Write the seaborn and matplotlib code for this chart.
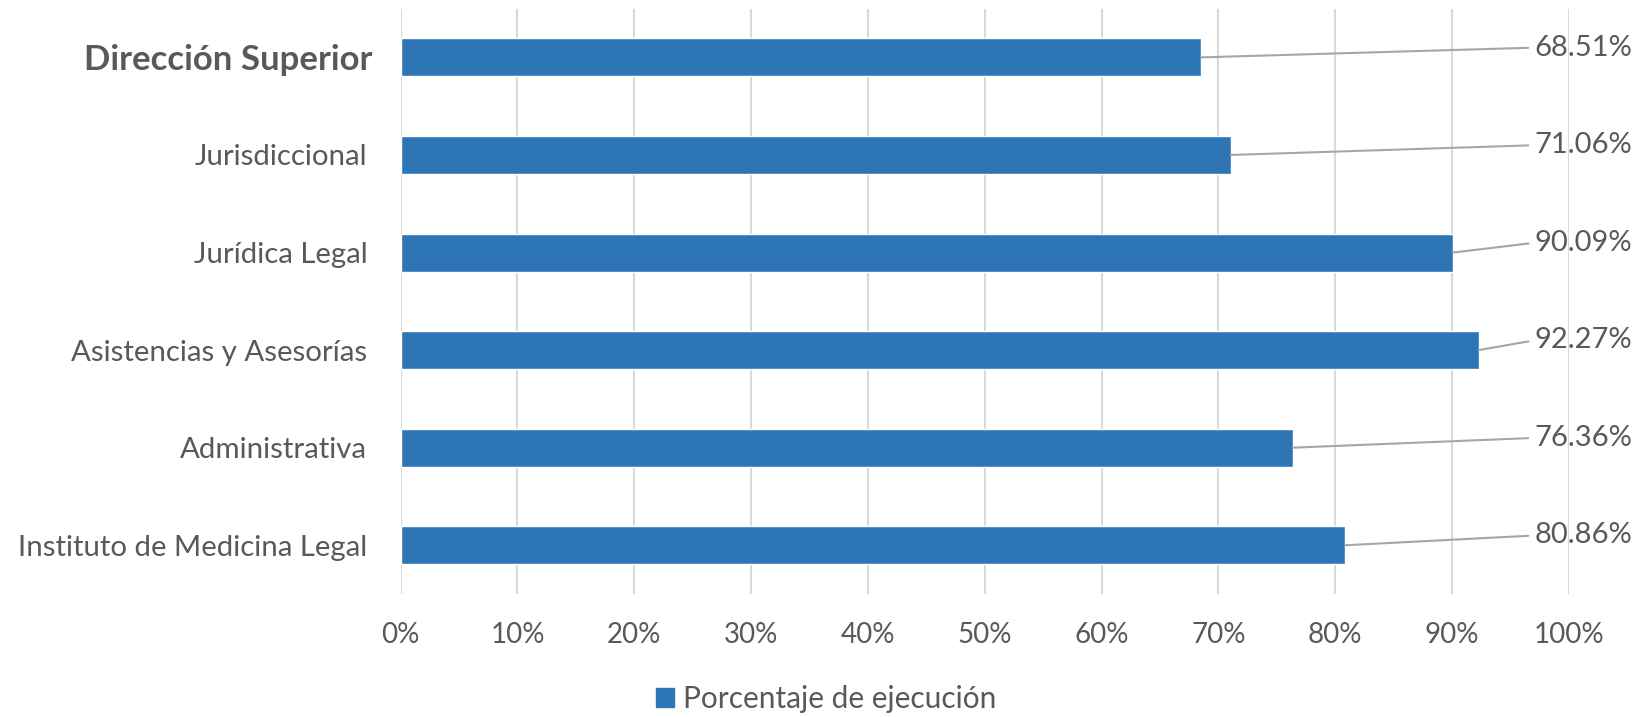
import matplotlib
matplotlib.use("Agg")
import matplotlib.pyplot as plt
import matplotlib.transforms as mtransforms
from matplotlib.patches import Patch
import seaborn as sns
import pandas as pd

categories = ["Dirección Superior", "Jurisdiccional", "Jurídica Legal",
              "Asistencias y Asesorías", "Administrativa", "Instituto de Medicina Legal"]
values = [68.51, 71.06, 90.09, 92.27, 76.36, 80.86]
x_ticks = [0, 10, 20, 30, 40, 50, 60, 70, 80, 90, 100]
series_name = "Porcentaje de ejecución"

BAR = "#2E75B6"
TXT = "#595959"
GRID = "#D9D9D9"
LEAD = "#A6A6A6"

sns.set_theme(style="white")
plt.rcParams["font.family"] = ["Lato", "DejaVu Sans"]

df = pd.DataFrame({"cat": categories, "val": values})

fig = plt.figure(figsize=(16.4, 7.17), dpi=100)
ax = fig.add_axes([0.2443, 0.1715, 0.7124, 0.8165])
sns.barplot(data=df, y="cat", x="val", orient="h", color=BAR, width=0.39,
            saturation=1, ax=ax)

ax.set_xlim(0, 100)
ax.set_ylim(5.5, -0.5)
ax.set_xticks(x_ticks)
ax.set_xticklabels([f"{t}%" for t in x_ticks])
ax.set_xlabel("")
ax.set_ylabel("")
for s in ax.spines.values():
    s.set_visible(False)
ax.grid(axis="x", color=GRID, linewidth=1.5)
ax.grid(axis="y", visible=False)
ax.set_axisbelow(True)
ax.tick_params(axis="x", length=0, pad=20, labelsize=20, labelcolor=TXT)
ax.tick_params(axis="y", length=0, pad=24, labelsize=21.2, labelcolor=TXT)
for lbl in ax.get_yticklabels():
    if lbl.get_text() == "Dirección Superior":
        lbl.set_fontweight("bold")
        lbl.set_fontsize(25)
        lbl.set_transform(lbl.get_transform() +
                          mtransforms.ScaledTranslation(0.052, 0, fig.dpi_scale_trans))

tr = mtransforms.blended_transform_factory(ax.transAxes, ax.transData)
for i, v in enumerate(values):
    ax.annotate(f"{v:.2f}%", xy=(v, i), xytext=(1.054, i - 0.1), textcoords=tr,
                ha="right", va="center", fontsize=21, color=TXT,
                annotation_clip=False,
                arrowprops=dict(arrowstyle="-", color=LEAD, lw=1.5,
                                relpos=(0, 0.5), shrinkA=2, shrinkB=0))

fig.legend(handles=[Patch(facecolor=BAR, edgecolor=BAR, label=series_name)],
           loc="center", bbox_to_anchor=(0.504, 0.025), frameon=False,
           fontsize=21.5, labelcolor=TXT, handlelength=0.6, handleheight=0.6,
           handletextpad=0.3)

fig.savefig("out.png", dpi=100)
